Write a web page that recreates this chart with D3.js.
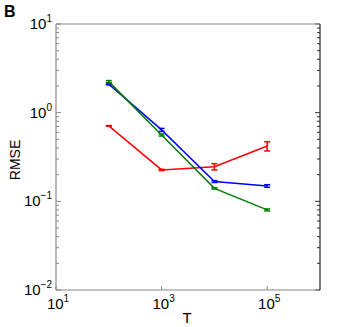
<!DOCTYPE html>
<html lang="en">
<head>
  <meta charset="UTF-8">
  <title>RMSE vs T</title>
  <script src="https://d3js.org/d3.v7.min.js"></script>
  <style>
    body { margin: 0; background: #fff; }
    text { font-family: "Liberation Sans", Arial, sans-serif; fill: #000; }
  </style>
</head>
<body>
  <script>
    // data
    const T = [1e2, 1e3, 1e4, 1e5];
    const redMean = [0.71, 0.226, 0.246, 0.42];
    const redErr = [0.006, 0.004, 0.02, 0.05];
    const blueMean = [2.1, 0.64, 0.167, 0.149];
    const blueErr = [0.04, 0.025, 0.004, 0.005];
    const greenMean = [2.24, 0.56, 0.14, 0.08];
    const greenErr = [0.06, 0.015, 0.002, 0.002];
    const xTicks = [1e1, 1e3, 1e5];
    const yTicks = [1e-2, 1e-1, 1e0, 1e1];

    const width = 354, height = 327;
    const m = { left: 56, top: 24, right: 320, bottom: 290 };

    const svg = d3.select('body').append('svg')
      .attr('width', width)
      .attr('height', height);

    const x = d3.scaleLog().domain([1e1, 1e6]).range([m.left, m.right]);
    const y = d3.scaleLog().domain([1e-2, 1e1]).range([m.bottom, m.top]);

    // minor ticks on y (left and right, inside)
    const yMinor = [];
    for (let e = -2; e < 1; e++) for (let k = 2; k <= 9; k++) yMinor.push(k * Math.pow(10, e));
    const g = svg.append('g');
    yMinor.forEach(v => {
      g.append('line').attr('x1', m.left).attr('x2', m.left + 3)
        .attr('y1', y(v)).attr('y2', y(v)).attr('stroke', '#888');
      g.append('line').attr('x1', m.right).attr('x2', m.right - 3)
        .attr('y1', y(v)).attr('y2', y(v)).attr('stroke', '#333');
    });
    yTicks.forEach(v => {
      g.append('line').attr('x1', m.left).attr('x2', m.left + 5)
        .attr('y1', y(v)).attr('y2', y(v)).attr('stroke', '#888');
      g.append('line').attr('x1', m.right).attr('x2', m.right - 5)
        .attr('y1', y(v)).attr('y2', y(v)).attr('stroke', '#333');
    });
    xTicks.forEach(v => {
      g.append('line').attr('x1', x(v)).attr('x2', x(v))
        .attr('y1', m.bottom).attr('y2', m.bottom - 4).attr('stroke', '#888');
    });

    // frame
    g.append('line').attr('x1', m.left).attr('x2', m.right).attr('y1', m.top).attr('y2', m.top)
      .attr('stroke', '#888').attr('stroke-width', 1.2);
    g.append('line').attr('x1', m.left).attr('x2', m.right).attr('y1', m.bottom).attr('y2', m.bottom)
      .attr('stroke', '#888').attr('stroke-width', 1.2);
    g.append('line').attr('x1', m.left).attr('x2', m.left).attr('y1', m.top).attr('y2', m.bottom)
      .attr('stroke', '#888').attr('stroke-width', 1.2);
    g.append('line').attr('x1', m.right).attr('x2', m.right).attr('y1', m.top).attr('y2', m.bottom)
      .attr('stroke', '#222').attr('stroke-width', 1.2);

    // tick labels with superscripts
    function powLabel(px, py, exp, anchor) {
      const t = svg.append('text').attr('x', px).attr('y', py)
        .attr('font-size', 15).attr('text-anchor', anchor);
      t.append('tspan').text('10');
      t.append('tspan').attr('dy', -7).attr('font-size', 10).text(exp);
    }
    yTicks.forEach(v => powLabel(m.left - 4, y(v) + 5, String(Math.round(Math.log10(v))).replace('-', '\u2212'), 'end'));
    xTicks.forEach(v => powLabel(x(v) + 2, m.bottom + 19, String(Math.round(Math.log10(v))), 'middle'));

    svg.append('text').attr('x', 187).attr('y', 323).attr('font-size', 15)
      .attr('text-anchor', 'middle').text('T');
    svg.append('text').attr('transform', 'translate(20,160) rotate(-90)')
      .attr('font-size', 14).attr('text-anchor', 'middle').text('RMSE');
    svg.append('text').attr('x', 4).attr('y', 17).attr('font-size', 16)
      .attr('font-weight', 'bold').text('B');

    const series = [
      { color: '#ff0000', mean: redMean, err: redErr },
      { color: '#0000ff', mean: blueMean, err: blueErr },
      { color: '#007f00', mean: greenMean, err: greenErr }
    ];

    const line = d3.line().x(d => x(d[0])).y(d => y(d[1]));

    series.forEach(s => {
      const pts = T.map((t, i) => [t, s.mean[i], s.err[i]]);
      svg.append('path').datum(pts).attr('d', line)
        .attr('fill', 'none').attr('stroke', s.color).attr('stroke-width', 1.5);
      const eb = svg.append('g').attr('stroke', s.color).attr('stroke-width', 1.5);
      pts.forEach(p => {
        const cx = x(p[0]);
        const y1 = y(p[1] + p[2]), y0 = y(p[1] - p[2]);
        eb.append('line').attr('x1', cx).attr('x2', cx).attr('y1', y1).attr('y2', y0);
        eb.append('line').attr('x1', cx - 3).attr('x2', cx + 3).attr('y1', y1).attr('y2', y1);
        eb.append('line').attr('x1', cx - 3).attr('x2', cx + 3).attr('y1', y0).attr('y2', y0);
      });
    });
  </script>
</body>
</html>
